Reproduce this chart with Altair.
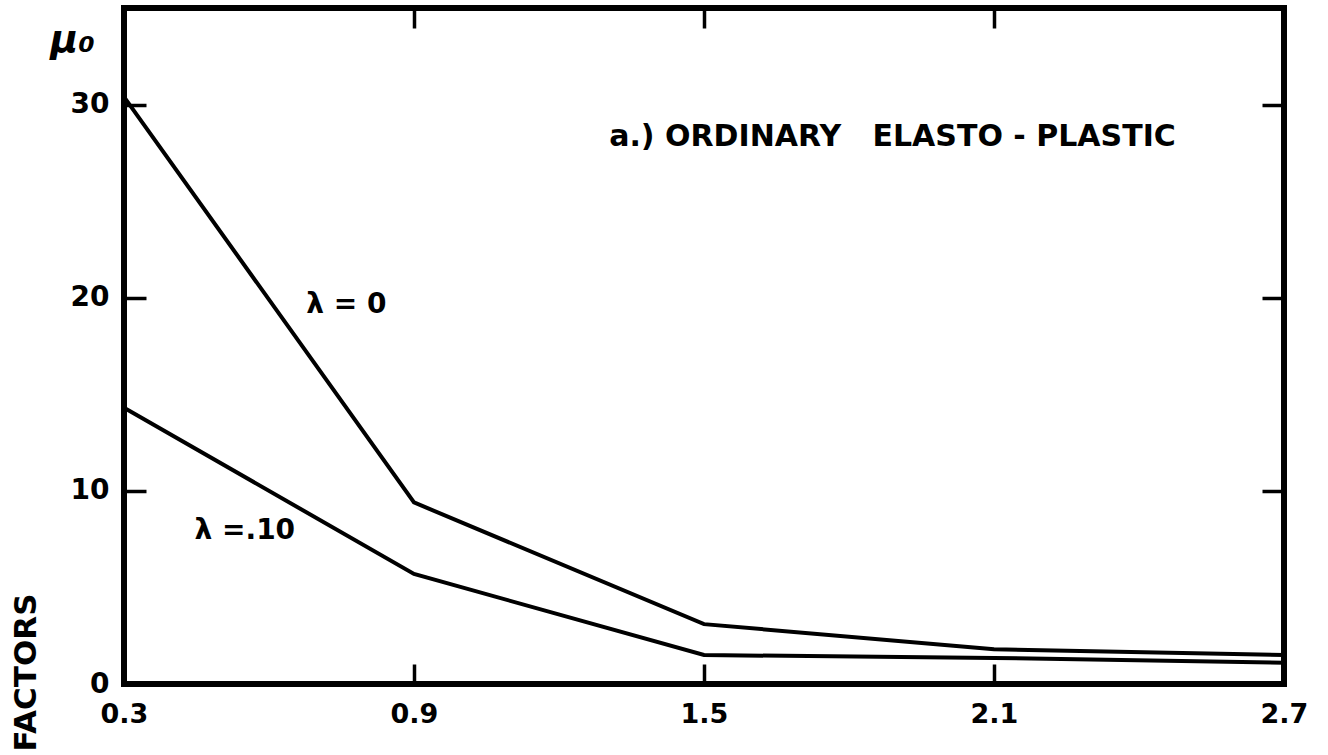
import altair as alt
import pandas as pd

# ---- data ----
x_values = [0.3, 0.9, 1.5, 2.1, 2.7]
mu_lambda_0 = [30.4, 9.4, 3.1, 1.8, 1.5]
mu_lambda_10 = [14.3, 5.7, 1.5, 1.35, 1.1]
series_names = ["λ=0", "λ=.10"]
y_ticks = [0, 10, 20, 30]
x_ticks = [0.3, 0.9, 1.5, 2.1, 2.7]

NB = "\u00a0"
label_texts = ["λ" + NB + "=" + NB + "0",
               "λ" + NB + "=.10",
               "a.)" + NB + "ORDINARY" + NB * 3 + "ELASTO" + NB + "-" + NB + "PLASTIC"]
label_x = [0.76, 0.55, 1.89]
label_y = [19.6, 7.9, 28.3]
label_size = [28, 28, 30]

W, H = 1160, 676

rows = []
for name, vals in zip(series_names, [mu_lambda_0, mu_lambda_10]):
    for xv, yv in zip(x_values, vals):
        rows.append({"series": name, "x": xv, "y": yv})
lines_df = pd.DataFrame(rows)
labels_df = pd.DataFrame({"text": label_texts, "x": label_x, "y": label_y, "size": label_size})

xscale = alt.Scale(domain=[0.3, 2.7], nice=False, zero=False)
yscale = alt.Scale(domain=[0, 35], nice=False, zero=True)

lines = alt.Chart(lines_df).mark_line(color="black", strokeWidth=4, strokeCap="butt").encode(
    x=alt.X("x:Q", scale=xscale, axis=alt.Axis(
        orient="bottom", values=x_ticks, format=".1f", offset=-20, tickSize=20,
        tickWidth=3.5, tickColor="black", domain=False, grid=False,
        labelPadding=17, labelFontSize=27, labelFontWeight="bold", labelColor="black",
        labelFlush=False, labelOverlap=False, labelBound=False, title=None)),
    y=alt.Y("y:Q", scale=yscale, axis=alt.Axis(
        orient="left", values=y_ticks, offset=-22, tickSize=22, tickWidth=3.5,
        tickColor="black", domain=False, grid=False, labelPadding=15,
        labelFontSize=28, labelFontWeight="bold", labelColor="black",
        labelFlush=False, labelOverlap=False, labelBound=False,
        title="FACTORS", titleAngle=270, titleAlign="right", titleBaseline="middle",
        titleX=-120, titleY=585, titleFontSize=31, titleFontWeight="bold",
        titleColor="black")),
    detail="series:N",
)

texts = alt.Chart(labels_df).mark_text(color="black", fontWeight="bold", align="center",
                                       baseline="middle").encode(
    x=alt.X("x:Q", scale=xscale, axis=alt.Axis(
        orient="top", values=x_ticks, offset=-20, tickSize=20, tickWidth=3.5,
        tickColor="black", domain=False, grid=False, labels=False, title=None)),
    y=alt.Y("y:Q", scale=yscale, axis=alt.Axis(
        orient="right", values=y_ticks, offset=-22, tickSize=22, tickWidth=3.5,
        tickColor="black", domain=False, grid=False, labels=False,
        title="μ₀", titleAngle=0, titleAlign="center", titleBaseline="middle",
        titleX=-1190, titleY=32, titleFontSize=38, titleFontWeight="bold",
        titleFontStyle="italic", titleColor="black")),
    text="text:N",
    size=alt.Size("size:Q", scale=None, legend=None),
)

chart = alt.layer(lines, texts).resolve_axis(x="independent", y="independent").properties(
    width=W, height=H,
    autosize=alt.AutoSizeParams(type="none"),
    padding={"left": 124, "top": 8, "right": 44, "bottom": 71},
    background="white",
).configure(
    font="DejaVu Sans",
    view=alt.ViewConfig(stroke="black", strokeWidth=6),
)

chart.save("out.html", embed_options={"renderer": "svg", "actions": False})
